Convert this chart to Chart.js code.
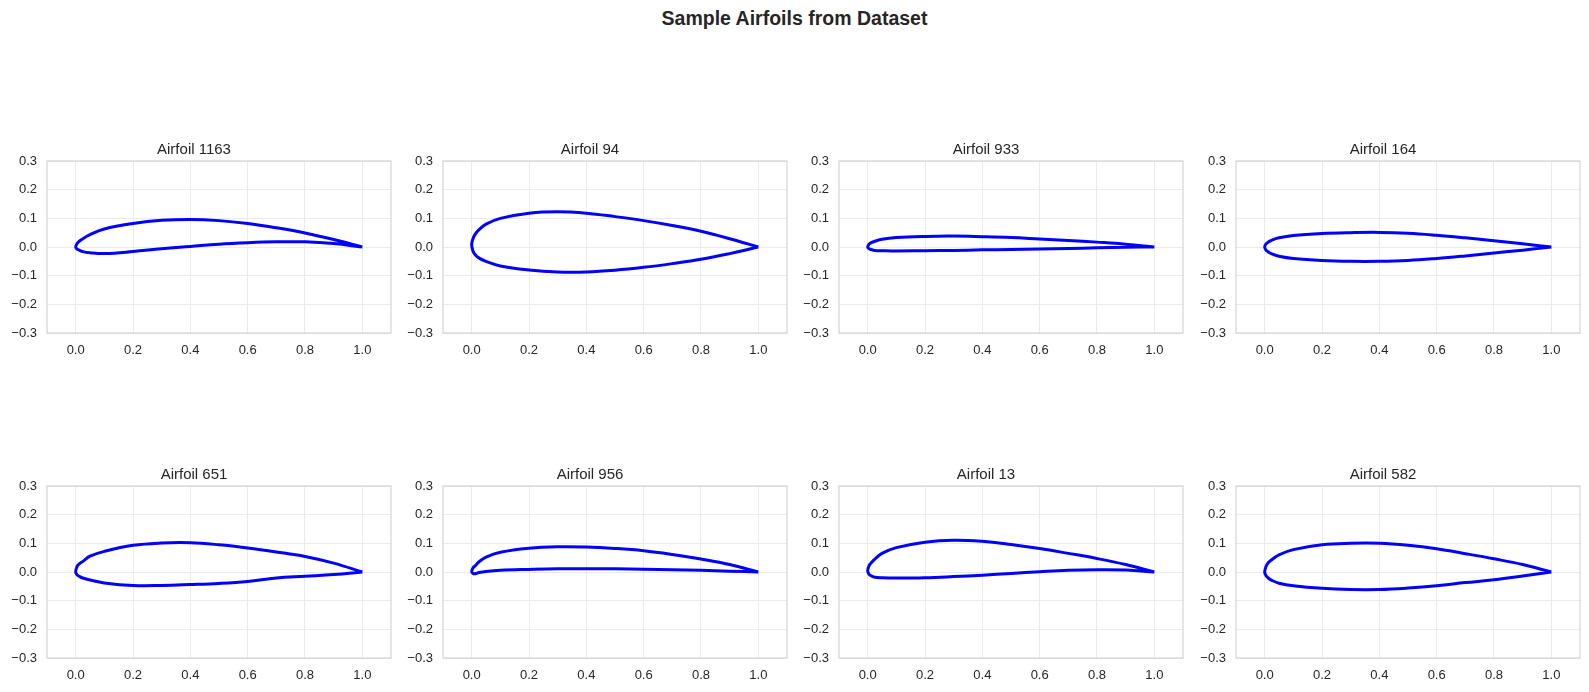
<!DOCTYPE html>
<html>
<head>
<meta charset="utf-8">
<script src="https://cdn.jsdelivr.net/npm/chart.js@4.4.0/dist/chart.umd.min.js"></script>
<style>
    body { margin: 0; background: #fff; width: 1589px; height: 692px; position: relative; overflow: hidden; font-family: "Liberation Sans", Arial, sans-serif; }
    #title { position: absolute; left: 0; width: 1589px; top: 7px; text-align: center; font-weight: bold; font-size: 19.5px; color: #262626; }
    canvas { position: absolute; }
</style>
</head>
<body>
<div id="title">Sample Airfoils from Dataset</div>
<script>
// x stations along the chord, shared by all airfoils
const xStations = [0, 0.005, 0.0125, 0.025, 0.05, 0.1, 0.2, 0.3, 0.4, 0.5, 0.6, 0.7, 0.8, 0.9, 1.0];

const airfoilNames = ["Airfoil 1163", "Airfoil 94", "Airfoil 933", "Airfoil 164",
                      "Airfoil 651", "Airfoil 956", "Airfoil 13", "Airfoil 582"];

// upper / lower surface y values at each x station
const upper1163 = [0, 0.012, 0.02, 0.029, 0.043, 0.063, 0.082, 0.093, 0.096, 0.092, 0.082, 0.067, 0.049, 0.026, 0];
const lower1163 = [0, -0.007, -0.011, -0.016, -0.02, -0.023, -0.016, -0.006, 0.002, 0.01, 0.015, 0.018, 0.018, 0.012, 0];
const upper94 = [0.008, 0.03, 0.045, 0.06, 0.08, 0.1, 0.118, 0.123, 0.118, 0.106, 0.092, 0.075, 0.055, 0.029, 0];
const lower94 = [0.008, -0.015, -0.027, -0.038, -0.05, -0.066, -0.08, -0.087, -0.087, -0.081, -0.071, -0.058, -0.043, -0.023, 0];
const upper933 = [0, 0.01, 0.015, 0.02, 0.027, 0.033, 0.037, 0.038, 0.036, 0.033, 0.028, 0.023, 0.017, 0.01, 0];
const lower933 = [0, -0.006, -0.009, -0.012, -0.013, -0.014, -0.013, -0.012, -0.01, -0.009, -0.007, -0.005, -0.003, -0.001, 0];
const upper164 = [0, 0.011, 0.017, 0.024, 0.032, 0.04, 0.047, 0.05, 0.051, 0.048, 0.041, 0.032, 0.022, 0.011, 0];
const lower164 = [0, -0.011, -0.017, -0.024, -0.032, -0.04, -0.047, -0.05, -0.05, -0.047, -0.04, -0.031, -0.021, -0.011, 0];
const upper651 = [0, 0.02, 0.028, 0.037, 0.055, 0.072, 0.093, 0.101, 0.102, 0.095, 0.084, 0.07, 0.054, 0.031, 0];
const lower651 = [0, -0.01, -0.015, -0.021, -0.028, -0.038, -0.047, -0.047, -0.044, -0.04, -0.033, -0.021, -0.015, -0.009, 0];
const upper956 = [0.002, 0.015, 0.022, 0.035, 0.052, 0.069, 0.083, 0.088, 0.087, 0.082, 0.074, 0.061, 0.045, 0.026, 0];
const lower956 = [0.002, -0.005, -0.006, -0.002, 0.002, 0.006, 0.009, 0.011, 0.011, 0.011, 0.01, 0.008, 0.006, 0.003, 0];
const upper13 = [0.004, 0.022, 0.032, 0.045, 0.065, 0.085, 0.104, 0.111, 0.107, 0.096, 0.082, 0.065, 0.047, 0.026, 0];
const lower13 = [0.004, -0.008, -0.013, -0.018, -0.02, -0.021, -0.02, -0.016, -0.011, -0.005, 0.001, 0.006, 0.008, 0.007, 0];
const upper582 = [0, 0.02, 0.032, 0.043, 0.06, 0.078, 0.095, 0.1, 0.1, 0.093, 0.081, 0.064, 0.046, 0.026, 0];
const lower582 = [0, -0.013, -0.021, -0.029, -0.039, -0.048, -0.057, -0.061, -0.061, -0.056, -0.048, -0.037, -0.027, -0.014, 0];

const upperSurfaces = [upper1163, upper94, upper933, upper164, upper651, upper956, upper13, upper582];
const lowerSurfaces = [lower1163, lower94, lower933, lower164, lower651, lower956, lower13, lower582];

const xTicks = [0, 0.2, 0.4, 0.6, 0.8, 1.0];
const yTicks = [-0.3, -0.2, -0.1, 0, 0.1, 0.2, 0.3];

// layout of the 2x4 grid (axes box positions in page pixels)
const colLeft = [47, 443, 839, 1236];
const rowTop = [161, 486];
const boxW = 344, boxH = 172;
const padL = 50, padT = 35, padR = 4, padB = 30;

const textColor = "#262626";
const fontFamily = "'Liberation Sans', Arial, sans-serif";
const titleSize = 15;

const fmt = v => {
    if (Math.abs(v) < 1e-9) v = 0;
    return v.toFixed(1).replace("-", "\u2212");
};

// draw the light grey frame round the plot area
const framePlugin = {
    id: "frame",
    afterDraw(chart) {
        const a = chart.chartArea;
        const ctx = chart.ctx;
        ctx.save();
        ctx.strokeStyle = "#cccccc";
        ctx.lineWidth = 1;
        ctx.strokeRect(a.left, a.top, a.right - a.left, a.bottom - a.top);
        ctx.restore();
    }
};

airfoilNames.forEach((name, i) => {
    const col = i % 4, row = Math.floor(i / 4);
    const canvas = document.createElement("canvas");
    canvas.width = padL + boxW + padR;
    canvas.height = padT + boxH + padB;
    canvas.style.left = (colLeft[col] - padL) + "px";
    canvas.style.top = (rowTop[row] - padT) + "px";
    document.body.appendChild(canvas);

    // trailing edge -> upper surface -> leading edge -> lower surface -> trailing edge
    const pts = [];
    for (let k = xStations.length - 1; k >= 0; k--) pts.push({ x: xStations[k], y: upperSurfaces[i][k] });
    for (let k = 1; k < xStations.length; k++) pts.push({ x: xStations[k], y: lowerSurfaces[i][k] });

    new Chart(canvas.getContext("2d"), {
        type: "scatter",
        data: {
            datasets: [{
                data: pts,
                showLine: true,
                borderColor: "#0000ff",
                borderWidth: 3,
                borderJoinStyle: "round",
                pointRadius: 0,
                tension: 0.4,
                fill: false
            }]
        },
        options: {
            responsive: false,
            animation: false,
            layout: { padding: { left: 0, right: padR, top: 0, bottom: 0 } },
            plugins: {
                legend: { display: false },
                tooltip: { enabled: false },
                title: {
                    display: true,
                    text: name,
                    color: textColor,
                    font: { family: fontFamily, size: titleSize, weight: "normal", lineHeight: 1.2 },
                    padding: { top: 14.5, bottom: padT - 14.5 - titleSize * 1.2 }
                }
            },
            scales: {
                x: {
                    type: "linear",
                    min: -0.1,
                    max: 1.1,
                    afterBuildTicks: s => { s.ticks = xTicks.map(v => ({ value: v })); },
                    afterFit: s => { s.height = padB; },
                    grid: { color: "#ebebeb", drawTicks: false },
                    border: { display: false },
                    ticks: { color: textColor, padding: 10, maxRotation: 0, font: { family: fontFamily, size: 13 }, callback: v => fmt(v) }
                },
                y: {
                    type: "linear",
                    min: -0.3,
                    max: 0.3,
                    afterBuildTicks: s => { s.ticks = yTicks.map(v => ({ value: v })); },
                    afterFit: s => { s.width = padL; },
                    grid: { color: "#ebebeb", drawTicks: false },
                    border: { display: false },
                    ticks: { color: textColor, padding: 10, font: { family: fontFamily, size: 13 }, callback: v => fmt(v) }
                }
            }
        },
        plugins: [framePlugin]
    });
});
</script>
</body>
</html>
